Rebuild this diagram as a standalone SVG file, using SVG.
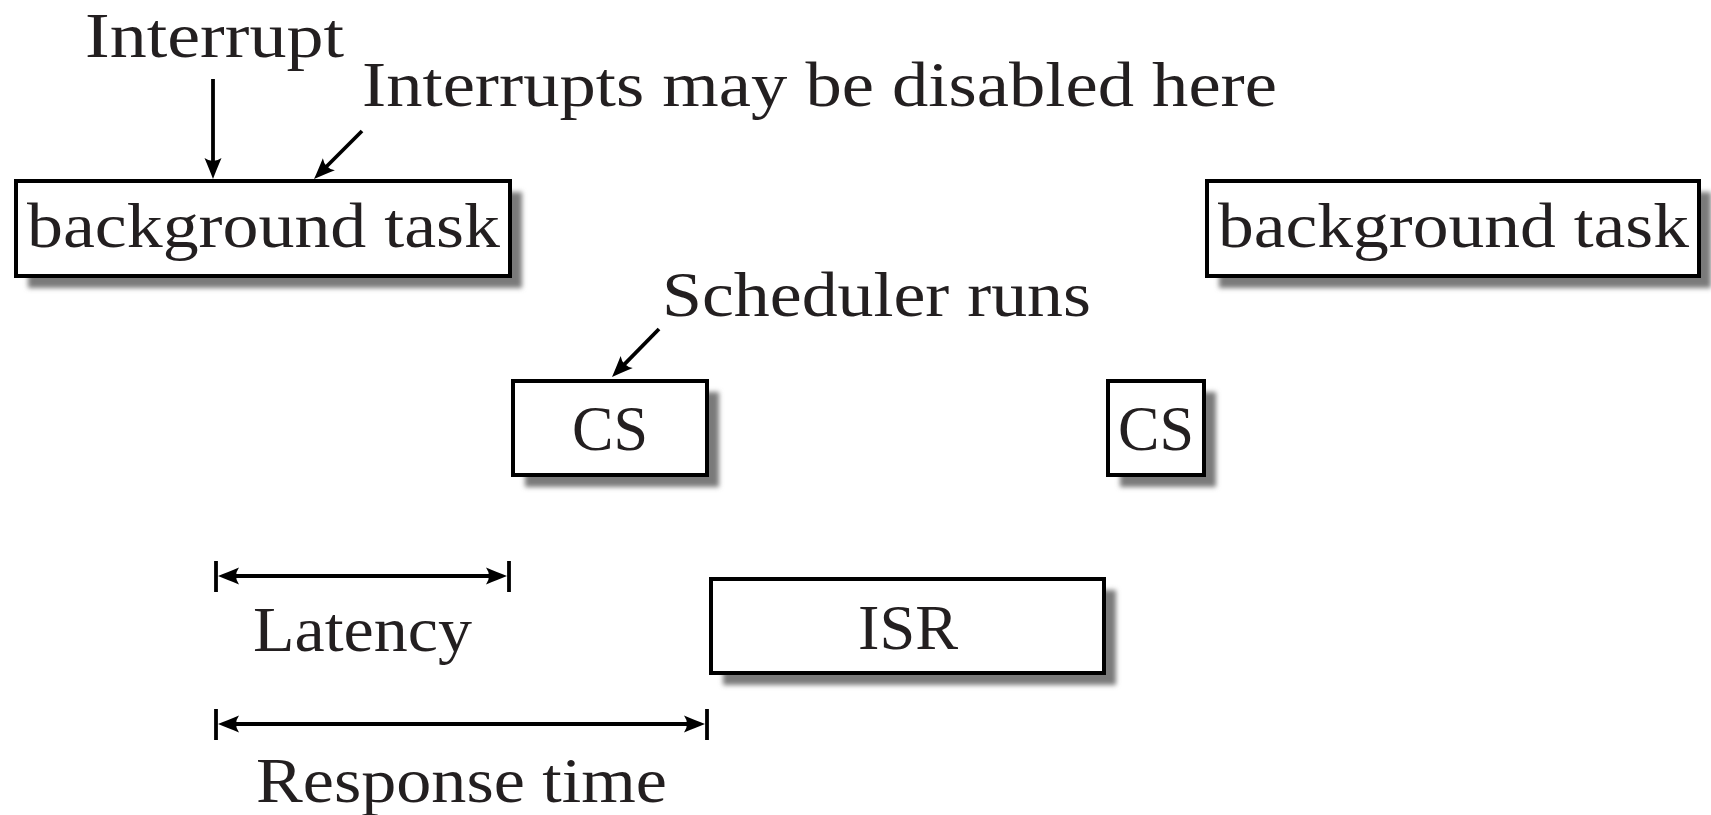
<svg xmlns="http://www.w3.org/2000/svg" width="1711" height="815" viewBox="0 0 1711 815">
  <style>
    .lbl { font-family: "Liberation Serif", "Times New Roman", serif; font-size: 64px; fill: #231f20; }
    .box { fill: #ffffff; stroke: #000000; stroke-width: 4; }
    .shadow { fill: #7a7a7a; filter: url(#soft); }
    .wire { stroke: #000000; stroke-width: 3.8; fill: none; }
  </style>
  <defs>
    <filter id="soft" x="-10%" y="-20%" width="120%" height="140%">
      <feGaussianBlur stdDeviation="2.5"/>
    </filter>
    <!-- concave arrowhead; its tip sits 12 units past the line end -->
    <marker id="head" viewBox="-11 -10 25 20" refX="0" refY="0" markerWidth="25" markerHeight="20" markerUnits="userSpaceOnUse" orient="auto-start-reverse">
      <path d="M12,0 Q4,-3 -9,-8.5 Q-3,0 -9,8.5 Q4,3 12,0 Z" fill="#000000"/>
    </marker>
  </defs>

  <!-- task boxes with drop shadows -->
  <g id="bg-task-1">
    <rect class="shadow" x="28" y="192" width="494" height="96"/>
    <rect class="box" x="16" y="181" width="494" height="95"/>
    <text class="lbl" x="27" y="247" textLength="473" lengthAdjust="spacingAndGlyphs">background task</text>
  </g>
  <g id="bg-task-2">
    <rect class="shadow" x="1219" y="192" width="492" height="96"/>
    <rect class="box" x="1207" y="181" width="492" height="95"/>
    <text class="lbl" x="1218" y="247" textLength="471" lengthAdjust="spacingAndGlyphs">background task</text>
  </g>
  <g id="cs-1">
    <rect class="shadow" x="525" y="392" width="194" height="95"/>
    <rect class="box" x="513" y="381" width="194" height="94"/>
    <text class="lbl" x="572" y="450" textLength="76" lengthAdjust="spacingAndGlyphs">CS</text>
  </g>
  <g id="cs-2">
    <rect class="shadow" x="1120" y="392" width="96" height="95"/>
    <rect class="box" x="1108" y="381" width="96" height="94"/>
    <text class="lbl" x="1118" y="450" textLength="76" lengthAdjust="spacingAndGlyphs">CS</text>
  </g>
  <g id="isr">
    <rect class="shadow" x="723" y="590" width="393" height="95"/>
    <rect class="box" x="711" y="579" width="393" height="94"/>
    <text class="lbl" x="858" y="649" textLength="100" lengthAdjust="spacingAndGlyphs">ISR</text>
  </g>

  <!-- annotations -->
  <g id="note-interrupt">
    <text class="lbl" x="85" y="57" textLength="259" lengthAdjust="spacingAndGlyphs">Interrupt</text>
  </g>
  <g id="note-disabled">
    <text class="lbl" x="362" y="106" textLength="915" lengthAdjust="spacingAndGlyphs">Interrupts may be disabled here</text>
  </g>
  <g id="note-scheduler">
    <text class="lbl" x="662" y="316" textLength="429" lengthAdjust="spacingAndGlyphs">Scheduler runs</text>
  </g>
  <g id="note-latency">
    <text class="lbl" x="253" y="651" textLength="219" lengthAdjust="spacingAndGlyphs">Latency</text>
  </g>
  <g id="note-response">
    <text class="lbl" x="256" y="802" textLength="411" lengthAdjust="spacingAndGlyphs">Response time</text>
  </g>

  <!-- connectors and dimension lines -->
  <g id="connectors">
    <line class="wire" x1="213" y1="79" x2="213" y2="167" marker-end="url(#head)"/>
    <line class="wire" x1="362" y1="131" x2="322.5" y2="170.5" marker-end="url(#head)"/>
    <line class="wire" x1="659" y1="329" x2="620.4" y2="368.4" marker-end="url(#head)"/>

    <line class="wire" x1="216" y1="561" x2="216" y2="592"/>
    <line class="wire" x1="509" y1="561" x2="509" y2="592"/>
    <line class="wire" x1="230" y1="576" x2="495" y2="576" marker-start="url(#head)" marker-end="url(#head)"/>

    <line class="wire" x1="216" y1="709" x2="216" y2="740"/>
    <line class="wire" x1="707" y1="709" x2="707" y2="740"/>
    <line class="wire" x1="230" y1="724" x2="693" y2="724" marker-start="url(#head)" marker-end="url(#head)"/>
  </g>
</svg>
